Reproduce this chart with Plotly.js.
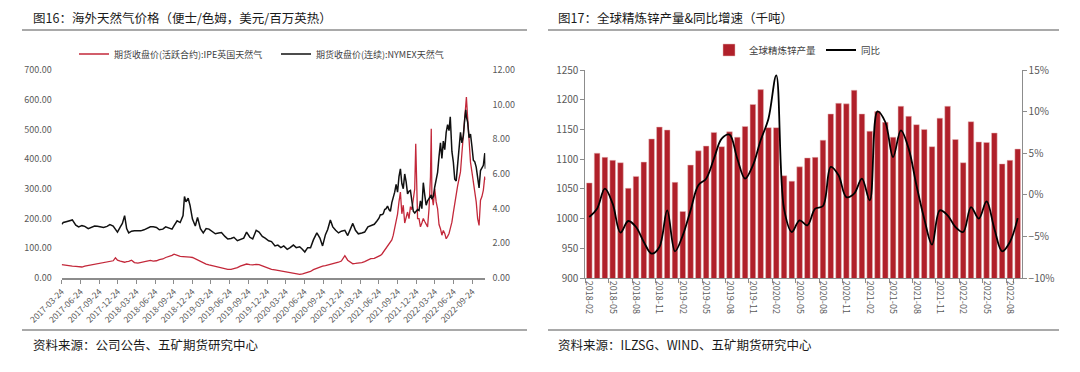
<!DOCTYPE html>
<html><head><meta charset="utf-8">
<script src="https://cdn.plot.ly/plotly-3.0.1.min.js"></script>
<style>html,body{margin:0;padding:0;background:#fff}#chart{width:1080px;height:372px}</style>
</head><body><div id="chart"></div>
<script>
// ---------- Chart 16: natural gas prices ----------
const gasDates = [
'2017-03-24','2017-04-01','2017-04-15','2017-05-01','2017-05-15','2017-06-01','2017-06-15','2017-07-01','2017-07-15','2017-08-01','2017-08-15','2017-09-01','2017-09-15','2017-10-01','2017-10-15','2017-11-01','2017-11-15','2017-12-01','2017-12-12','2017-12-22',
'2018-01-05','2018-01-15','2018-01-26','2018-02-05','2018-02-15','2018-03-01','2018-03-15','2018-04-01','2018-04-15','2018-05-01','2018-05-15','2018-06-01','2018-06-15','2018-07-01','2018-07-15','2018-08-01','2018-08-15','2018-09-01','2018-09-15','2018-09-25','2018-10-10','2018-10-25','2018-11-08','2018-11-15','2018-11-22','2018-12-03','2018-12-12','2018-12-24',
'2019-01-07','2019-01-18','2019-02-01','2019-02-15','2019-03-01','2019-03-15','2019-04-01','2019-04-15','2019-05-01','2019-05-15','2019-06-01','2019-06-15','2019-07-01','2019-07-15','2019-08-01','2019-08-15','2019-09-01','2019-09-15','2019-10-01','2019-10-15','2019-11-01','2019-11-15','2019-12-01','2019-12-15',
'2020-01-01','2020-01-15','2020-02-01','2020-02-15','2020-03-01','2020-03-15','2020-04-01','2020-04-15','2020-05-01','2020-05-15','2020-06-01','2020-06-15','2020-06-26','2020-07-10','2020-07-24','2020-08-07','2020-08-24','2020-09-08','2020-09-21','2020-10-05','2020-10-16','2020-10-29','2020-11-10','2020-11-24','2020-12-08','2020-12-22',
'2021-01-08','2021-01-22','2021-02-05','2021-02-16','2021-03-01','2021-03-15','2021-04-01','2021-04-15','2021-05-01','2021-05-15','2021-06-01','2021-06-15',
'2021-06-24','2021-07-01','2021-07-08','2021-07-15','2021-07-22','2021-07-29','2021-08-05','2021-08-12','2021-08-19','2021-08-26','2021-09-02','2021-09-09','2021-09-16','2021-09-23','2021-09-30','2021-10-07','2021-10-14','2021-10-21','2021-10-28','2021-11-04','2021-11-11','2021-11-18','2021-11-25','2021-12-02','2021-12-09','2021-12-16','2021-12-21','2021-12-30',
'2022-01-06','2022-01-13','2022-01-20','2022-01-27','2022-02-03','2022-02-10','2022-02-17','2022-02-24','2022-03-03','2022-03-07','2022-03-10','2022-03-17','2022-03-24','2022-03-31','2022-04-07','2022-04-14','2022-04-21','2022-04-28','2022-05-05','2022-05-12','2022-05-19','2022-05-26','2022-06-02','2022-06-08','2022-06-16','2022-06-23','2022-06-30','2022-07-07','2022-07-14','2022-07-21','2022-07-28','2022-08-04','2022-08-11','2022-08-18','2022-08-23','2022-08-26','2022-09-01','2022-09-08','2022-09-15','2022-09-22','2022-09-29','2022-10-06','2022-10-13','2022-10-20','2022-10-27','2022-11-03','2022-11-10','2022-11-17','2022-11-24','2022-11-27'
];
// IPE UK natural gas, pence/therm (left axis)
const ipeUK = [
45,44,43,41,40,39,37,37,40,42,43,46,48,50,52,54,56,58,68,60,
57,55,53,55,56,60,52,50,52,55,57,59,57,58,62,64,69,72,76,80,76,73,72,72,71,72,70,69,
64,60,55,50,47,44,41,38,36,34,31,29,29,31,35,40,44,47,45,44,46,45,41,37,
32,29,27,25,23,22,20,18,15,13,12,14,16,18,22,28,33,36,40,42,44,46,47,49,53,57,
75,60,52,48,49,50,52,55,60,65,66,70,
72,76,80,87,92,98,104,112,118,128,144,165,188,215,256,289,216,245,185,200,222,200,240,230,265,300,452,200,
200,172,185,200,190,183,172,233,340,502,278,245,300,256,233,180,166,144,160,150,132,140,150,166,188,220,256,278,310,334,357,420,480,536,570,609,540,458,390,357,320,300,256,200,177,262,274,296,341,330
];
// NYMEX natural gas, USD/MMBtu (right axis)
const nymexGas = [
3.10,3.20,3.25,3.30,3.35,3.05,2.95,3.02,2.98,2.85,2.92,3.00,2.98,2.95,2.92,2.98,3.08,3.00,2.80,2.65,
2.95,3.15,3.60,2.85,2.60,2.70,2.72,2.73,2.72,2.78,2.85,2.95,2.95,2.92,2.78,2.82,2.95,2.90,2.82,3.02,3.30,3.20,3.60,4.70,4.40,4.60,4.20,3.40,
3.00,3.50,2.85,2.60,2.85,2.82,2.68,2.55,2.60,2.62,2.40,2.25,2.28,2.35,2.15,2.20,2.30,2.65,2.35,2.25,2.75,2.65,2.40,2.30,
2.15,2.10,1.85,1.90,1.75,1.85,1.65,1.75,1.90,1.75,1.80,1.65,1.50,1.75,1.75,2.20,2.60,2.30,1.85,2.50,2.80,3.35,2.95,2.75,2.60,2.70,
2.75,2.45,2.85,3.15,2.75,2.55,2.60,2.65,2.95,3.00,3.10,3.30,
3.45,3.65,3.65,3.70,3.95,4.00,4.15,3.95,3.85,4.35,4.60,4.95,5.40,4.95,5.85,6.30,5.45,5.15,6.00,5.55,4.85,5.00,5.05,4.45,3.85,3.75,3.85,3.95,
3.90,4.45,4.00,5.50,4.80,4.20,4.45,4.60,4.70,4.80,4.55,4.70,5.25,5.60,6.10,7.00,7.80,6.90,7.90,7.40,8.40,8.85,8.50,9.30,7.30,6.70,5.70,5.60,6.40,7.60,8.40,7.80,8.20,9.20,9.70,9.30,9.00,8.10,8.30,7.60,6.80,6.70,6.40,5.80,5.20,6.20,6.40,6.50,7.20,6.30
];
const gasTicks = ['2017-03-24','2017-06-24','2017-09-24','2017-12-24','2018-03-24','2018-06-24','2018-09-24','2018-12-24','2019-03-24','2019-06-24','2019-09-24','2019-12-24','2020-03-24','2020-06-24','2020-09-24','2020-12-24','2021-03-24','2021-06-24','2021-09-24','2021-12-24','2022-03-24','2022-06-24','2022-09-24'];
const gasLeftTicks = [0,100,200,300,400,500,600,700];
const gasRightTicks = [0,2,4,6,8,10,12];

// ---------- Chart 17: global refined zinc output ----------
const zincMonths = ['2018-02','2018-03','2018-04','2018-05','2018-06','2018-07','2018-08','2018-09','2018-10','2018-11','2018-12',
'2019-01','2019-02','2019-03','2019-04','2019-05','2019-06','2019-07','2019-08','2019-09','2019-10','2019-11','2019-12',
'2020-01','2020-02','2020-03','2020-04','2020-05','2020-06','2020-07','2020-08','2020-09','2020-10','2020-11','2020-12',
'2021-01','2021-02','2021-03','2021-04','2021-05','2021-06','2021-07','2021-08','2021-09','2021-10','2021-11','2021-12',
'2022-01','2022-02','2022-03','2022-04','2022-05','2022-06','2022-07','2022-08','2022-09'];
const zincOutput = [1060,1110,1103,1098,1094,1051,1071,1095,1134,1154,1149,
1061,1012,1090,1114,1122,1145,1121,1146,1137,1155,1192,1217,
1153,1153,1072,1063,1087,1102,1103,1132,1176,1194,1193,1216,
1176,1147,1180,1162,1137,1189,1172,1158,1150,1121,1169,1189,
1133,1094,1163,1129,1128,1144,1092,1098,1117];
const zincYoY = [-2.67,-1.67,0.74,-1.07,-4.55,-3.15,-3.87,-5.67,-7.07,-6.27,-1.87,
-6.79,-4.87,-1.87,1.14,1.94,4.34,6.75,7.23,4.34,1.94,3.54,6.55,
9.15,14.36,-1.67,-4.47,-3.07,-3.67,-1.67,-1.35,3.35,2.34,-0.27,0.14,
1.94,-0.67,10.03,8.75,4.54,7.75,5.55,1.14,-2.87,-5.99,-1.87,-2.47,
-3.87,-4.47,-1.47,-2.87,-0.79,-4.07,-6.79,-5.67,-2.8];
const zincTicks = ['2018-02','2018-05','2018-08','2018-11','2019-02','2019-05','2019-08','2019-11','2020-02','2020-05','2020-08','2020-11','2021-02','2021-05','2021-08','2021-11','2022-02','2022-05','2022-08'];

const W = 1080, H = 372;
const px = v => v / W, py = v => 1 - v / H;
const CJK = '"Noto Sans CJK SC", "Noto Sans", sans-serif';
const GRAY = '#595959', AX = '#8c8c8c';
const yDom = [py(278), py(70)];

const traces = [
  {type:'scatter', mode:'lines', name:'期货收盘价(连续):NYMEX天然气', x:gasDates, y:nymexGas, xaxis:'x', yaxis:'y2',
   line:{color:'#111111', width:1.5}, legend:'legend', legendrank:2},
  {type:'scatter', mode:'lines', name:'期货收盘价(活跃合约):IPE英国天然气', x:gasDates, y:ipeUK, xaxis:'x', yaxis:'y',
   line:{color:'#C3283A', width:1.3}, legend:'legend', legendrank:1},
  {type:'bar', name:'全球精炼锌产量', x:zincMonths, y:zincOutput, xaxis:'x2', yaxis:'y3',
   marker:{color:'#B0202A', line:{color:'#E6B8B8', width:0.5}}, legend:'legend2'},
  {type:'scatter', mode:'lines', name:'同比', x:zincMonths, y:zincYoY, xaxis:'x2', yaxis:'y4',
   line:{color:'#000000', width:1.8, shape:'spline', smoothing:1}, legend:'legend2'}
];

const layout = {
  width:W, height:H, margin:{l:0,r:0,t:0,b:0},
  paper_bgcolor:'#ffffff', plot_bgcolor:'rgba(0,0,0,0)',
  font:{family:CJK, size:9, color:GRAY},
  showlegend:true,
  xaxis:{domain:[px(61.7), px(485.4)], anchor:'y', type:'date', range:['2017-03-24','2022-11-27'],
    tickmode:'array', tickvals:gasTicks, ticktext:gasTicks, tickangle:-45, tickfont:{size:8.5, color:GRAY},
    ticks:'outside', ticklen:4, tickcolor:AX, showline:true, linecolor:AX, linewidth:1.5, showgrid:false, zeroline:false},
  yaxis:{domain:yDom, anchor:'x', range:[0,700], tickmode:'array', tickvals:gasLeftTicks, tickformat:'.2f',
    showgrid:false, zeroline:false, showline:false, ticks:'', ticklabelstandoff:9, tickfont:{size:9, color:GRAY}},
  yaxis2:{domain:yDom, anchor:'x', overlaying:'y', side:'right', range:[0,12], tickmode:'array', tickvals:gasRightTicks, tickformat:'.2f',
    showgrid:false, zeroline:false, showline:false, ticks:'', ticklabelstandoff:6, tickfont:{size:9, color:GRAY}},
  xaxis2:{domain:[px(585.4), px(1021.6)], anchor:'y3', type:'category', range:[-0.5,55.5],
    tickmode:'array', tickvals:zincTicks, ticktext:zincTicks, tickangle:90, tickson:'boundaries', tickfont:{size:9, color:GRAY},
    ticks:'outside', ticklen:4, tickcolor:AX, showline:true, linecolor:AX, linewidth:1, showgrid:false, zeroline:false},
  yaxis3:{domain:yDom, anchor:'x2', range:[900,1250], dtick:50, tick0:900, showgrid:false, zeroline:false,
    showline:true, linecolor:AX, ticks:'outside', ticklen:4, tickcolor:AX, tickfont:{size:10, color:GRAY}},
  yaxis4:{domain:yDom, anchor:'x2', overlaying:'y3', side:'right', range:[-10,15], dtick:5, tick0:-10, ticksuffix:'%',
    showgrid:false, zeroline:false, showline:true, linecolor:AX, ticks:'outside', ticklen:4, tickcolor:AX, tickfont:{size:10, color:GRAY}},
  bargap:0.28,
  legend:{orientation:'h', x:px(74), y:py(54), xanchor:'left', yanchor:'middle', font:{size:9, color:'#404040', family:CJK},
    itemwidth:30, entrywidth:157, entrywidthmode:'pixels', bgcolor:'rgba(0,0,0,0)', traceorder:'normal'},
  legend2:{orientation:'h', x:px(709), y:py(50), xanchor:'left', yanchor:'middle', font:{size:9.5, color:'#404040', family:CJK},
    itemwidth:30, bgcolor:'rgba(0,0,0,0)', traceorder:'normal'},
  annotations:[
    {text:'图16：海外天然气价格（便士/色姆，美元/百万英热）', x:px(31), y:py(18), xref:'paper', yref:'paper', xanchor:'left', yanchor:'middle', showarrow:false, font:{size:12.5, color:'#1a1a1a', family:CJK}},
    {text:'图17：全球精炼锌产量&同比增速（千吨）', x:px(556), y:py(18), xref:'paper', yref:'paper', xanchor:'left', yanchor:'middle', showarrow:false, font:{size:12.5, color:'#1a1a1a', family:CJK}},
    {text:'资料来源：公司公告、五矿期货研究中心', x:px(31), y:py(344), xref:'paper', yref:'paper', xanchor:'left', yanchor:'middle', showarrow:false, font:{size:12.5, color:'#1a1a1a', family:CJK}},
    {text:'资料来源：ILZSG、WIND、五矿期货研究中心', x:px(556), y:py(344), xref:'paper', yref:'paper', xanchor:'left', yanchor:'middle', showarrow:false, font:{size:12.5, color:'#1a1a1a', family:CJK}}
  ],
  shapes:[
    {type:'line', xref:'paper', yref:'paper', x0:px(22), x1:px(527), y0:py(30), y1:py(30), line:{color:'#8c8c8c', width:1.3}},
    {type:'line', xref:'paper', yref:'paper', x0:px(548), x1:px(1059), y0:py(30), y1:py(30), line:{color:'#8c8c8c', width:1.3}},
    {type:'line', xref:'paper', yref:'paper', x0:px(22), x1:px(527), y0:py(330), y1:py(330), line:{color:'#8c8c8c', width:1.3}},
    {type:'line', xref:'paper', yref:'paper', x0:px(548), x1:px(1059), y0:py(330), y1:py(330), line:{color:'#8c8c8c', width:1.3}}
  ]
};

Plotly.newPlot('chart', traces, layout, {displayModeBar:false, staticPlot:true});
</script>
</body></html>
